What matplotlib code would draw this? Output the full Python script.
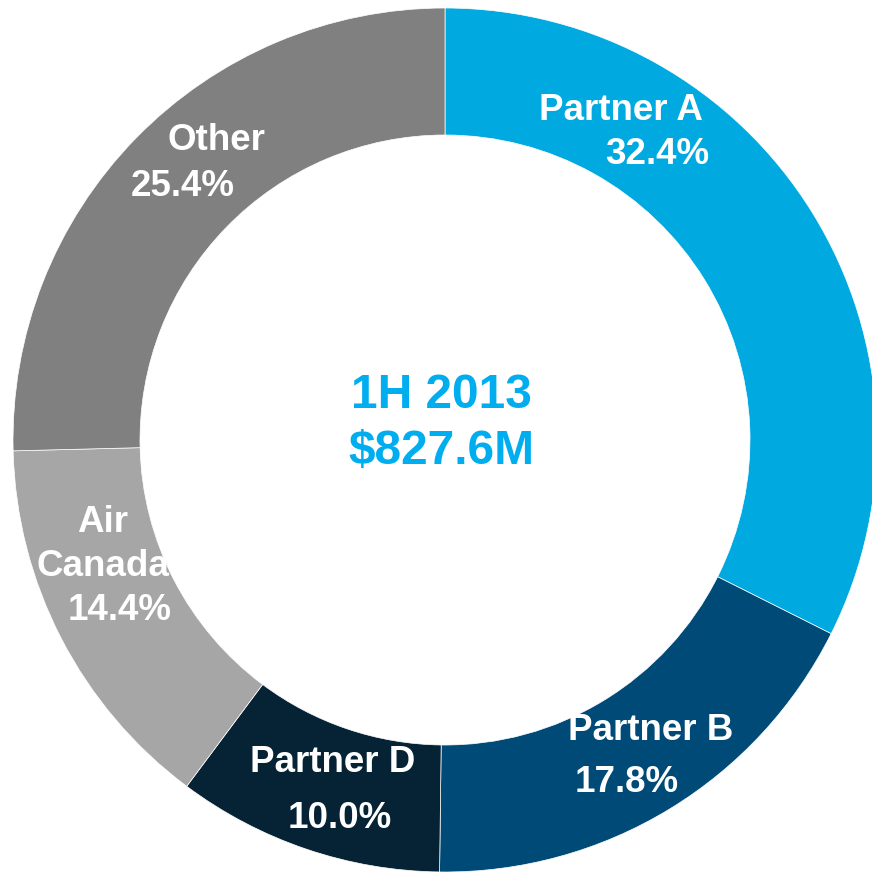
import matplotlib
matplotlib.use("Agg")
import matplotlib.pyplot as plt

plt.rcParams['font.family'] = ['Liberation Sans', 'DejaVu Sans']

# data
segments = ["Partner A", "Partner B", "Partner D", "Air Canada", "Other"]
shares = [32.4, 17.8, 10.0, 14.4, 25.4]
colors = ["#00A9E0", "#004A78", "#062336", "#A6A6A6", "#808080"]
center_title = "1H 2013"
center_total = "$827.6M"

W, H = 872, 873
fig = plt.figure(figsize=(W / 100, H / 100), dpi=100)
ax = fig.add_axes([0, 0, 1, 1])
ax.set_aspect('equal')

cx, cy, r_out = 445, H - 440, 432
ax.pie(shares, colors=colors, startangle=90, counterclock=False,
       center=(cx, cy), radius=r_out, frame=True,
       wedgeprops=dict(width=127, edgecolor='white', linewidth=0.5))
ax.set_xlim(0, W)
ax.set_ylim(0, H)
ax.axis('off')

# label placement (pixel coords, from top-left), hand placed like the original
label_pos = {
    "Partner A": [(621, 110, "Partner A"), (657, 154, "{:.1f}%")],
    "Partner B": [(651, 730, "Partner B"), (627, 783, "{:.1f}%")],
    "Partner D": [(333, 762, "Partner D"), (340, 818, "{:.1f}%")],
    "Air Canada": [(103, 522, "Air"), (103, 566, "Canada"), (120, 611, "{:.1f}%")],
    "Other": [(216, 140, "Other"), (183, 186, "{:.1f}%")],
}
for name, val in zip(segments, shares):
    for x, y, fmt in label_pos[name]:
        ax.text(x, H - y, fmt.format(val), color='white', fontsize=26.5,
                fontweight='bold', ha='center', va='center')

ax.text(cx - 4, H - 395, center_title, color='#00AEEF', fontsize=34.5,
        fontweight='bold', ha='center', va='center')
ax.text(cx - 4, H - 452, center_total, color='#00AEEF', fontsize=34.5,
        fontweight='bold', ha='center', va='center')

fig.savefig("out.png", dpi=100, facecolor='white')
